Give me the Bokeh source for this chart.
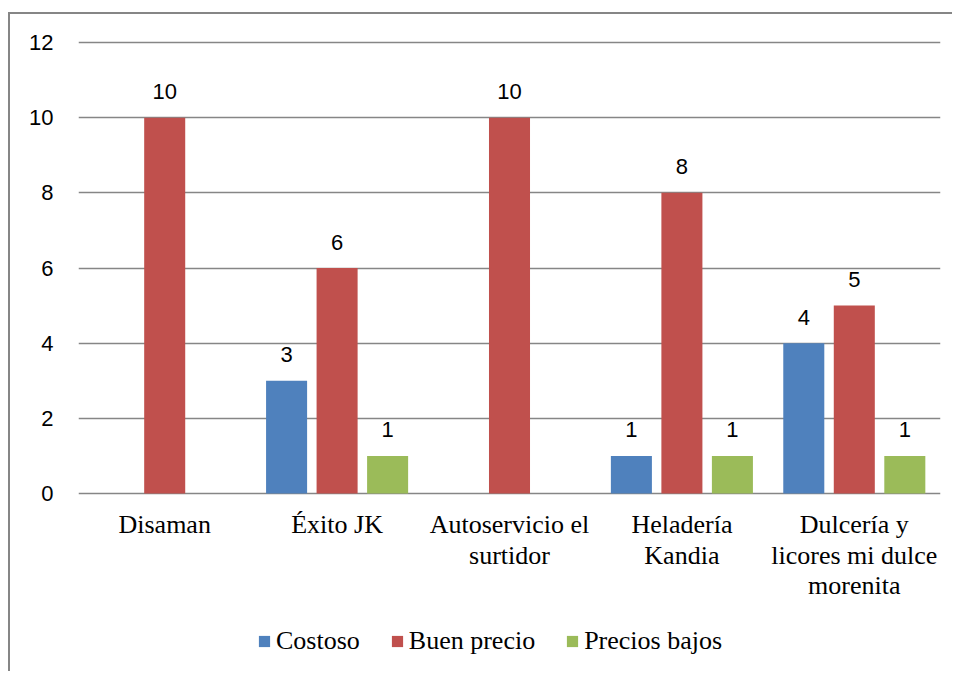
from bokeh.plotting import figure
from bokeh.models import FactorRange, Range1d, Legend, LegendItem, ColumnDataSource, FixedTicker
from bokeh.transform import dodge
from bokeh.core.properties import value
from bokeh.embed import file_html
from bokeh.resources import INLINE

categories = ["Disaman", "Éxito JK", "Autoservicio el surtidor", "Heladería Kandia",
              "Dulcería y licores mi dulce morenita"]
category_labels = ["Disaman", "Éxito JK", "Autoservicio el\nsurtidor", "Heladería\nKandia",
                   "Dulcería y\nlicores mi dulce\nmorenita"]
series_names = ["Costoso", "Buen precio", "Precios bajos"]
costoso = [0, 3, 0, 1, 4]
buen_precio = [10, 6, 10, 8, 5]
precios_bajos = [0, 1, 0, 1, 1]
y_ticks = [0, 2, 4, 6, 8, 10, 12]

colors = ["#4F81BD", "#C0504D", "#9BBB59"]
offsets = [-0.293, 0.0, 0.293]
bar_w = 0.238
grid_col = "#868686"

p = figure(x_range=FactorRange(factors=categories, range_padding=0),
           y_range=Range1d(-4.79, 12.054),
           width=944, height=659, output_backend="svg", toolbar_location=None,
           min_border_left=68, min_border_right=14, min_border_top=26, min_border_bottom=0,
           margin=(12, 0, 0, 8))
p.styles = {"border-top": "2px solid " + grid_col, "border-left": "2px solid " + grid_col}
p.outline_line_color = None
p.background_fill_color = "white"
p.border_fill_color = "white"

legend_items = []
for name, vals, col, off in zip(series_names, [costoso, buen_precio, precios_bajos], colors, offsets):
    src = ColumnDataSource(dict(cat=categories, val=vals))
    r = p.vbar(x=dodge("cat", off, range=p.x_range), top="val", width=bar_w, source=src,
               fill_color=col, line_color=None)
    legend_items.append(LegendItem(label=name, renderers=[r]))
    nz = [i for i, v in enumerate(vals) if v != 0]
    lsrc = ColumnDataSource(dict(cat=[categories[i] for i in nz], val=[vals[i] for i in nz],
                                 txt=[str(vals[i]) for i in nz]))
    p.text(x=dodge("cat", off, range=p.x_range), y="val", text="txt", source=lsrc,
           text_align="center", text_baseline="alphabetic", y_offset=-26,
           text_font=value("Liberation Sans"), text_font_size="22px", text_color="black")

# category labels (multi-line)
csrc = ColumnDataSource(dict(cat=categories, y=[0] * len(categories), txt=category_labels))
p.text(x="cat", y="y", text="txt", source=csrc, text_align="center", text_baseline="top",
       y_offset=17, text_font=value("Liberation Serif"), text_font_size="26px",
       text_line_height=1.05, text_color="black")

p.xaxis.visible = False
p.yaxis.ticker = FixedTicker(ticks=y_ticks)
p.yaxis.axis_line_color = None
p.yaxis.major_tick_line_color = None
p.yaxis.minor_tick_line_color = None
p.yaxis.major_label_text_font = "Liberation Sans"
p.yaxis.major_label_text_font_size = "22px"
p.yaxis.major_label_text_color = "black"
p.yaxis.major_label_standoff = 19

p.xgrid.grid_line_color = None
p.ygrid.ticker = FixedTicker(ticks=y_ticks)
p.ygrid.grid_line_color = grid_col
p.ygrid.grid_line_width = 1.6

legend = Legend(items=legend_items, orientation="horizontal", location=(179, 17),
                padding=0, margin=0, border_line_color=None, background_fill_alpha=0,
                glyph_width=14, glyph_height=14, label_standoff=5, spacing=30,
                label_text_font="Liberation Serif", label_text_font_size="26px",
                label_text_color="black")
p.add_layout(legend, "center")

open("out.html", "w").write(file_html(p, INLINE))
